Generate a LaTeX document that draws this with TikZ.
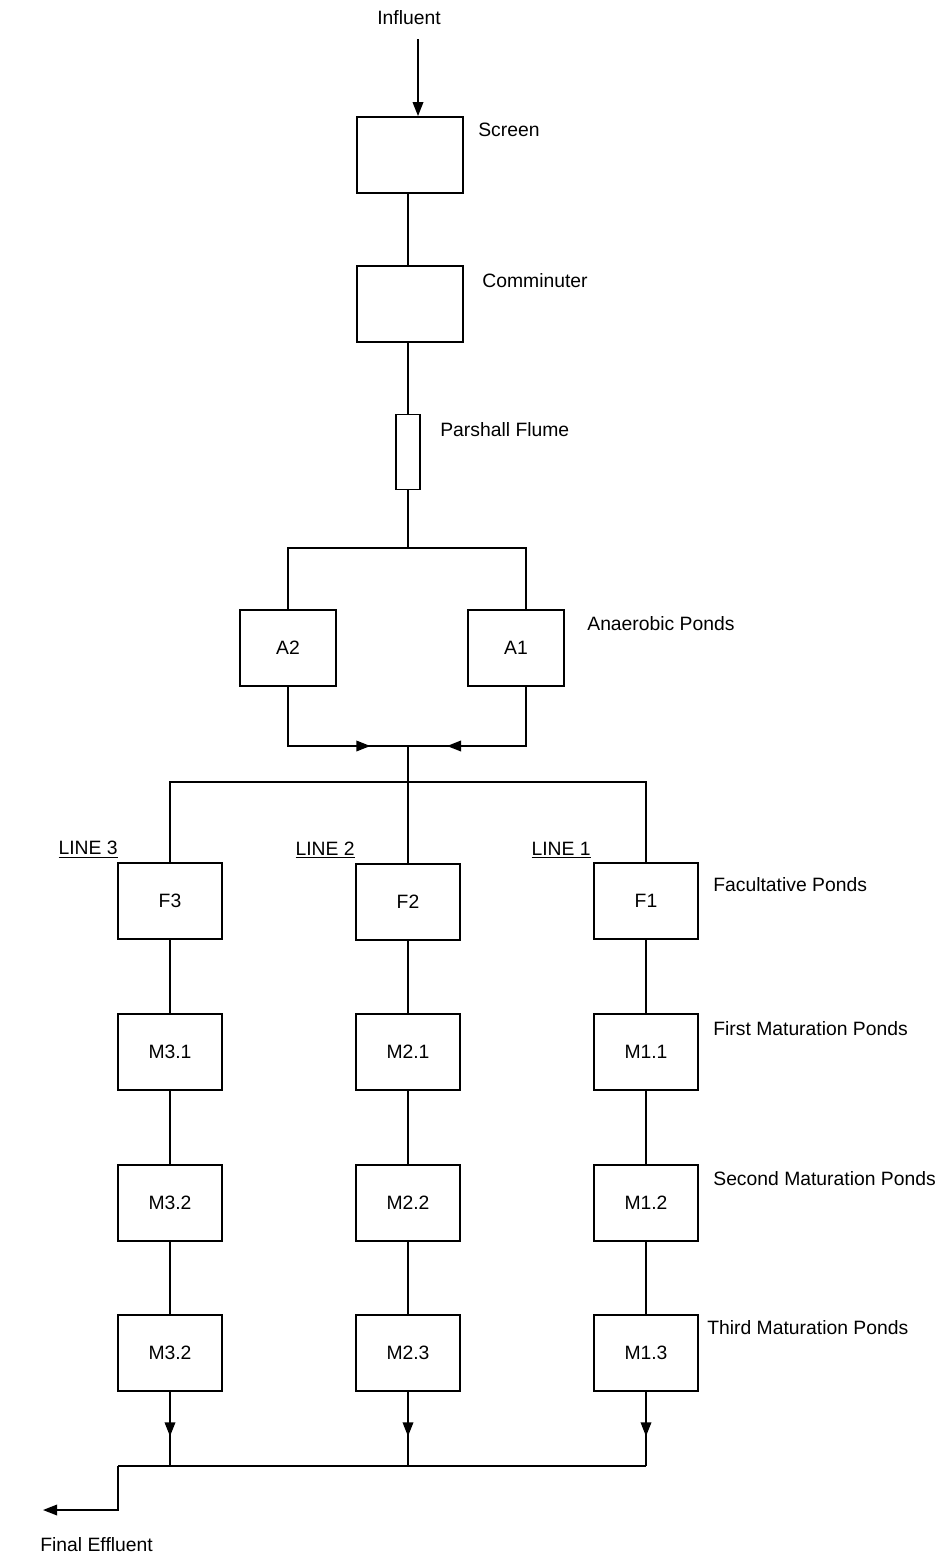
\documentclass[tikz,border=0pt]{standalone}
\usepackage{fontspec}
\setmainfont{Liberation Sans}
\usetikzlibrary{arrows.meta,decorations.markings,calc}
\begin{document}
\begin{tikzpicture}[x=0.02cm,y=-0.02cm,
  font=\fontsize{11}{13}\selectfont,
  box/.style={draw,line width=1pt,minimum width=2.08cm,minimum height=1.52cm,inner sep=0pt},
  lbl/.style={anchor=west,inner sep=0pt},
  conn/.style={line width=1pt},
  tip/.style={-{Triangle[length=8pt,width=6pt]}},
  midarrow/.style={postaction={decorate},decoration={markings,mark=at position #1 with {\arrow{Triangle[length=8pt,width=6pt]}}}}]
\useasboundingbox (0,0) rectangle (943,1558);
% top chain
\node[inner sep=1pt] (infl) at (409,18) {Influent};
\node[box,minimum width=2.12cm] (screen) at (410,155) {};
\node[lbl] at (478,130) {Screen};
\node[box,minimum width=2.12cm] (comm) at (410,304) {};
\node[lbl] at (482,281) {Comminuter};
\node[box,minimum width=0.48cm,minimum height=1.5cm] (flume) at (408,452) {};
\node[lbl] at (440,430) {Parshall Flume};
\draw[conn,tip] (infl.south) ++(9,12) coordinate (i0) -- (i0 |- screen.north);
\draw[conn] (screen.south -| flume) -- (comm.north -| flume);
\draw[conn] (comm.south -| flume) -- (flume.north);
% anaerobic
\coordinate (split) at (408,548);
\coordinate (a1x) at (526,548);
\node[box,minimum width=1.92cm] (A2) at (288,648) {A2};
\node[box,minimum width=1.92cm] (A1) at (516,648) {A1};
\node[lbl] at (587,624) {Anaerobic Ponds};
\draw[conn] (flume.south) -- (split);
\draw[conn] (split) -| (A2.north);
\draw[conn] (split) -| (A1.north -| a1x);
\coordinate (join) at (408,746);
\draw[conn,midarrow=0.79] (A2.south) |- (join);
\draw[conn,midarrow=0.78] (A1.south -| a1x) |- (join);
\coordinate (dist) at (408,782);
\draw[conn] (join) -- (dist);
% facultative
\node[box] (F3) at (170,901) {F3};
\node[box] (F2) at (408,902) {F2};
\node[box] (F1) at (646,901) {F1};
\node[lbl] at (713,885) {Facultative Ponds};
\node[anchor=south east,inner sep=0pt] at (118,859) {\underline{LINE 3}};
\node[anchor=south east,inner sep=0pt] at (355,859) {\underline{LINE 2}};
\node[anchor=south east,inner sep=0pt] at (591,859) {\underline{LINE 1}};
\draw[conn] (dist) -| (F3.north);
\draw[conn] (dist) -| (F1.north);
\draw[conn] (dist) -- (F2.north);
% maturation
\node[box] (M31) at (170,1052) {M3.1};
\node[box] (M21) at (408,1052) {M2.1};
\node[box] (M11) at (646,1052) {M1.1};
\node[lbl] at (713,1029) {First Maturation Ponds};
\node[box] (M32) at (170,1203) {M3.2};
\node[box] (M22) at (408,1203) {M2.2};
\node[box] (M12) at (646,1203) {M1.2};
\node[lbl] at (713,1179) {Second Maturation Ponds};
\node[box] (M33) at (170,1353) {M3.2};
\node[box] (M23) at (408,1353) {M2.3};
\node[box] (M13) at (646,1353) {M1.3};
\node[lbl] at (707,1328) {Third Maturation Ponds};
\foreach \a/\b in {F3/M31,M31/M32,M32/M33,F2/M21,M21/M22,M22/M23,F1/M11,M11/M12,M12/M13}
  \draw[conn] (\a.south) -- (\b.north);
% collection
\coordinate (c3) at (170,1466);
\coordinate (c2) at (408,1466);
\coordinate (c1) at (646,1466);
\coordinate (cl) at (118,1466);
\coordinate (out) at (43,1510);
\draw[conn,midarrow=0.6] (M33.south) -- (c3);
\draw[conn,midarrow=0.6] (M23.south) -- (c2);
\draw[conn,midarrow=0.6] (M13.south) -- (c1);
\draw[conn] (c1) -- (cl);
\draw[conn,tip] (cl) |- (out);
\node[lbl] at (40,1545) {Final Effluent};
\end{tikzpicture}
\end{document}
